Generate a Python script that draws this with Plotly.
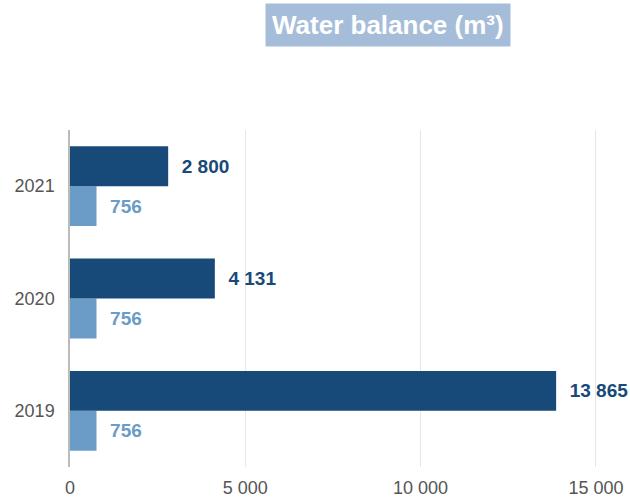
import plotly.graph_objects as go

years = ["2019", "2020", "2021"]
dark_values = [13865, 4131, 2800]
light_values = [756, 756, 756]
x_ticks = [0, 5000, 10000, 15000]
x_tick_labels = ["0", "5 000", "10 000", "15 000"]
title_text = "Water balance (m³)"

DARK = "#174a78"
LIGHT = "#6b9cc8"
FONT = "Liberation Sans, Arial, Helvetica, sans-serif"
PAD = "\u00a0\u00a0"

def fmt(v):
    return PAD + f"{v:,}".replace(",", " ")

fig = go.Figure()
fig.add_trace(go.Bar(
    y=years, x=light_values, orientation="h",
    marker=dict(color=LIGHT, line=dict(width=0)),
    text=[fmt(v) for v in light_values], textposition="outside",
    textfont=dict(color=LIGHT, size=19, family=FONT, weight="bold"),
    cliponaxis=False, showlegend=False,
))
fig.add_trace(go.Bar(
    y=years, x=dark_values, orientation="h",
    marker=dict(color=DARK, line=dict(width=0)),
    text=[fmt(v) for v in dark_values], textposition="outside",
    textfont=dict(color=DARK, size=19, family=FONT, weight="bold"),
    cliponaxis=False, showlegend=False,
))

fig.update_layout(
    width=630, height=499,
    margin=dict(l=70, r=0, t=129.5, b=31.5),
    barmode="group", bargap=0.29, bargroupgap=0,
    plot_bgcolor="white", paper_bgcolor="white",
    font=dict(family=FONT, size=18, color="#555555"),
    showlegend=False,
    xaxis=dict(
        range=[0, 15972], tickvals=x_ticks, ticktext=x_tick_labels,
        showgrid=True, gridcolor="#e6e6e6", gridwidth=1,
        zeroline=False, showline=False, ticks="",
        ticklabelstandoff=8,
        tickfont=dict(size=18, color="#555555"),
    ),
    yaxis=dict(
        type="category", categoryorder="array", categoryarray=years,
        showgrid=False, zeroline=False,
        showline=True, linecolor="#bbbbbb", linewidth=1.5,
        ticks="", ticklabelstandoff=10,
        tickfont=dict(size=18, color="#555555"),
    ),
    annotations=[dict(
        text=title_text, xref="paper", yref="paper",
        x=(388 - 70) / 560, y=(467.5 - 24.5) / 338,
        xanchor="center", yanchor="middle", showarrow=False,
        font=dict(size=26, color="white", family=FONT, weight="bold"),
        bgcolor="#a5bdd9", borderpad=6,
    )],
)

fig.write_html("out.html", config={"displayModeBar": False},
               post_script="document.body.style.margin='0';")
